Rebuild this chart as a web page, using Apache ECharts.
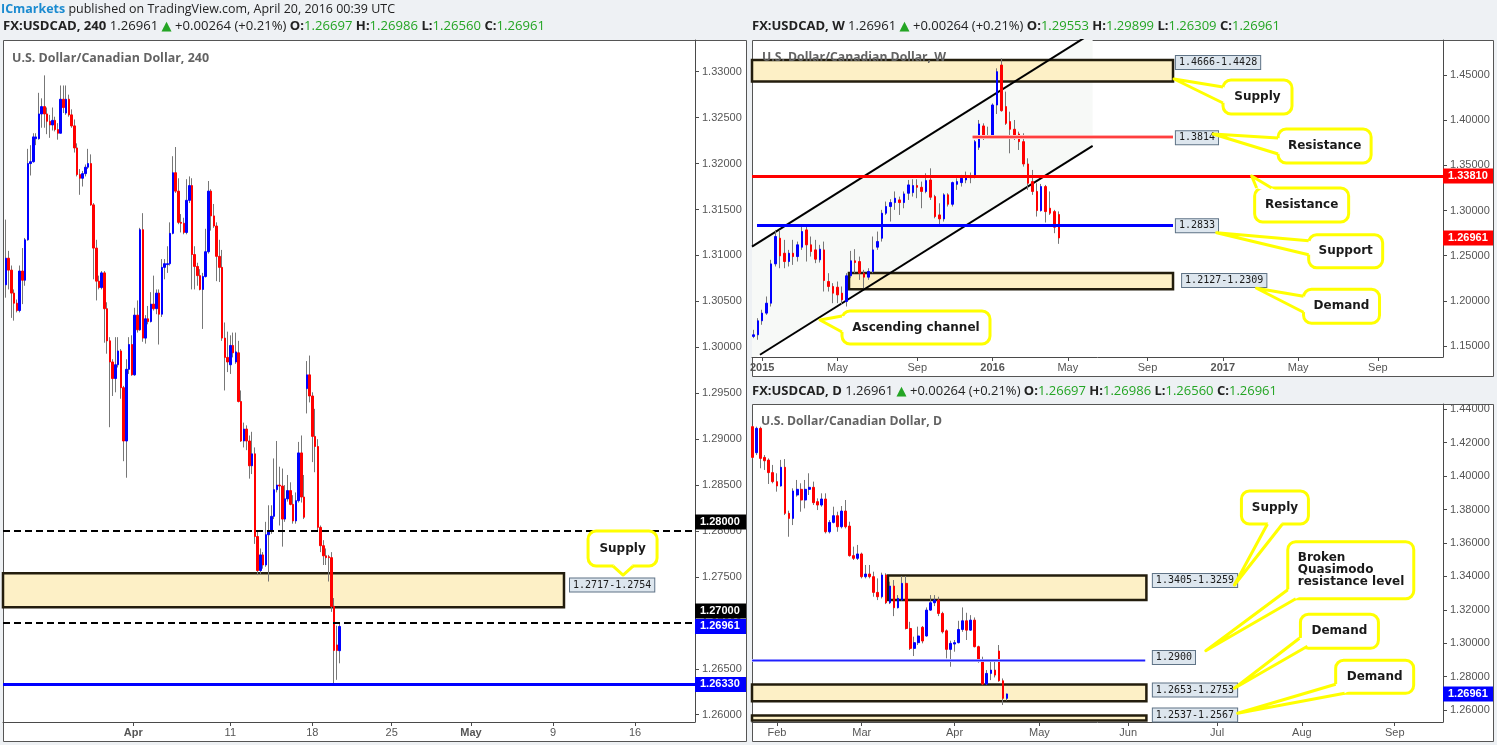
<!DOCTYPE html>
<html><head><meta charset="utf-8"><title>USDCAD</title>
<script src="https://cdn.jsdelivr.net/npm/echarts@6.0.0/dist/echarts.min.js"></script>
<style>html,body{margin:0;padding:0;background:#eef1f4;overflow:hidden}#chart{width:1497px;height:745px}</style>
</head><body><div id="chart"></div>
<script>
// ================= DATA =================
// 4-hour candles: [open, high, low, close]
const h4Candles = [
[1.3068,1.3139,1.3054,1.3097],[1.3097,1.3105,1.3063,1.3084],[1.3084,1.3089,1.3032,1.3059],[1.3059,1.3063,1.3029,1.3048],
[1.3048,1.3052,1.3038,1.3040],[1.3040,1.3089,1.3038,1.3083],[1.3083,1.3108,1.3047,1.3073],[1.3073,1.3119,1.3067,1.3117],
[1.3117,1.3216,1.3116,1.3200],[1.3200,1.3220,1.3187,1.3202],[1.3202,1.3233,1.3201,1.3229],[1.3227,1.3233,1.3220,1.3229],
[1.3227,1.3277,1.3226,1.3254],[1.3254,1.3271,1.3239,1.3262],[1.3262,1.3296,1.3239,1.3254],[1.3254,1.3261,1.3232,1.3246],
[1.3246,1.3253,1.3228,1.3242],[1.3242,1.3261,1.3236,1.3247],[1.3247,1.3251,1.3235,1.3237],[1.3237,1.3244,1.3226,1.3233],
[1.3233,1.3285,1.3233,1.3270],[1.3270,1.3285,1.3255,1.3261],[1.3255,1.3285,1.3253,1.3270],[1.3270,1.3275,1.3251,1.3253],
[1.3253,1.3259,1.3239,1.3241],[1.3241,1.3248,1.3212,1.3217],[1.3217,1.3222,1.3186,1.3188],[1.3188,1.3194,1.3166,1.3184],
[1.3184,1.3192,1.3175,1.3189],[1.3189,1.3199,1.3186,1.3196],[1.3196,1.3216,1.3194,1.3200],[1.3200,1.3210,1.3154,1.3155],
[1.3155,1.3157,1.3074,1.3108],[1.3108,1.3117,1.3051,1.3072],[1.3072,1.3078,1.3063,1.3065],[1.3065,1.3083,1.3063,1.3081],
[1.3081,1.3083,1.3005,1.3042],[1.3042,1.3049,1.2993,1.3007],[1.3007,1.3011,1.2913,1.2984],[1.2984,1.2987,1.2947,1.2966],
[1.2966,1.3011,1.2951,1.2981],[1.2981,1.3011,1.2978,1.2996],[1.2996,1.2998,1.2944,1.2956],[1.2956,1.2958,1.2876,1.2898],
[1.2898,1.2987,1.2858,1.2976],[1.2976,1.3011,1.2971,1.3003],[1.3003,1.3013,1.2969,1.2970],[1.2970,1.3043,1.2969,1.3035],
[1.3035,1.3051,1.3016,1.3019],[1.3019,1.3130,1.3018,1.3128],[1.3128,1.3146,1.3006,1.3010],[1.3010,1.3035,1.3004,1.3031],
[1.3031,1.3045,1.3025,1.3028],[1.3028,1.3060,1.3027,1.3047],[1.3047,1.3078,1.3040,1.3042],[1.3042,1.3063,1.3036,1.3059],
[1.3059,1.3063,1.3003,1.3036],[1.3036,1.3096,1.3033,1.3087],[1.3087,1.3096,1.3074,1.3091],[1.3090,1.3110,1.3081,1.3091],
[1.3091,1.3136,1.3089,1.3124],[1.3124,1.3208,1.3123,1.3190],[1.3190,1.3218,1.3168,1.3170],[1.3170,1.3184,1.3134,1.3136],
[1.3136,1.3145,1.3125,1.3135],[1.3135,1.3141,1.3123,1.3125],[1.3125,1.3183,1.3123,1.3160],[1.3160,1.3186,1.3157,1.3176],
[1.3176,1.3184,1.3063,1.3101],[1.3101,1.3110,1.3063,1.3088],[1.3088,1.3092,1.3067,1.3078],[1.3078,1.3085,1.3062,1.3063],
[1.3063,1.3081,1.3020,1.3077],[1.3077,1.3129,1.3076,1.3104],[1.3104,1.3181,1.3102,1.3170],[1.3170,1.3172,1.3127,1.3143],
[1.3143,1.3156,1.3130,1.3132],[1.3132,1.3136,1.3072,1.3099],[1.3099,1.3117,1.3071,1.3087],[1.3087,1.3106,1.3007,1.3010],
[1.3010,1.3027,1.2953,1.2989],[1.2989,1.3017,1.2973,1.2984],[1.2981,1.3013,1.2971,1.3002],[1.3002,1.3016,1.2989,1.2994],
[1.2984,1.3016,1.2982,1.2995],[1.2994,1.3007,1.2940,1.2941],[1.2941,1.2953,1.2897,1.2898],[1.2898,1.2918,1.2891,1.2911],
[1.2911,1.2915,1.2888,1.2898],[1.2898,1.2904,1.2857,1.2871],[1.2871,1.2908,1.2862,1.2884],[1.2884,1.2891,1.2786,1.2794],
[1.2794,1.2799,1.2752,1.2757],[1.2757,1.2781,1.2753,1.2774],[1.2774,1.2777,1.2759,1.2763],[1.2763,1.2810,1.2761,1.2796],
[1.2796,1.2828,1.2745,1.2800],[1.2800,1.2828,1.2797,1.2816],[1.2816,1.2879,1.2813,1.2845],[1.2845,1.2898,1.2842,1.2850],
[1.2850,1.2870,1.2806,1.2849],[1.2849,1.2868,1.2783,1.2813],[1.2813,1.2850,1.2810,1.2835],[1.2835,1.2861,1.2832,1.2844],
[1.2844,1.2853,1.2828,1.2829],[1.2829,1.2839,1.2808,1.2811],[1.2811,1.2842,1.2808,1.2833],[1.2833,1.2897,1.2831,1.2885],
[1.2885,1.2904,1.2831,1.2837],[1.2837,1.2861,1.2813,1.2815],[1.2955,1.2985,1.2928,1.2970],[1.2970,1.2991,1.2940,1.2947],
[1.2947,1.2951,1.2875,1.2903],[1.2903,1.2933,1.2864,1.2892],[1.2892,1.2900,1.2799,1.2804],[1.2804,1.2806,1.2777,1.2784],
[1.2784,1.2790,1.2763,1.2773],[1.2773,1.2781,1.2763,1.2771],[1.2772,1.2774,1.2745,1.2771],[1.2771,1.2777,1.2712,1.2718],
[1.2718,1.2727,1.2633,1.2670],[1.2676,1.2697,1.2638,1.2670],[1.26697,1.26986,1.26560,1.26961]
];
// weekly candles: [open, high, low, close]
const weeklyCandles = [
[1.1606,1.1679,1.1587,1.1624],[1.1624,1.1808,1.1569,1.1779],[1.1779,1.1901,1.1735,1.1864],[1.1864,1.2048,1.1845,1.1974],
[1.1974,1.2454,1.1937,1.2409],[1.2409,1.2785,1.2380,1.2712],[1.2693,1.2785,1.2361,1.2498],[1.2527,1.2675,1.2361,1.2435],
[1.2435,1.2564,1.2380,1.2527],[1.2527,1.2675,1.2398,1.2490],[1.2490,1.2656,1.2435,1.2620],[1.2594,1.2822,1.2564,1.2767],
[1.2785,1.2822,1.2435,1.2620],[1.2620,1.2712,1.2490,1.2546],[1.2564,1.2675,1.2417,1.2461],[1.2454,1.2620,1.2424,1.2572],
[1.2564,1.2656,1.2103,1.2225],[1.2214,1.2306,1.2103,1.2159],[1.2159,1.2196,1.1974,1.2085],[1.2151,1.2214,1.1974,1.2066],
[1.2085,1.2159,1.1956,1.2011],[1.1993,1.2306,1.1937,1.2277],[1.2277,1.2553,1.2251,1.2443],[1.2443,1.2572,1.2306,1.2424],
[1.2435,1.2490,1.2232,1.2306],[1.2306,1.2343,1.2140,1.2262],[1.2262,1.2361,1.2232,1.2325],[1.2325,1.2712,1.2306,1.2564],
[1.2594,1.2767,1.2564,1.2656],[1.2693,1.3007,1.2656,1.2970],[1.2970,1.3099,1.2951,1.3044],[1.3044,1.3125,1.2878,1.3088],
[1.3088,1.3211,1.3007,1.3136],[1.3117,1.3154,1.2951,1.3088],[1.3088,1.3211,1.3025,1.3184],[1.3191,1.3338,1.3117,1.3283],
[1.3198,1.3346,1.3154,1.3276],[1.3276,1.3346,1.3136,1.3257],[1.3257,1.3320,1.3025,1.3211],[1.3211,1.3412,1.3191,1.3331],
[1.3338,1.3467,1.3117,1.3147],[1.3154,1.3173,1.2914,1.2933],[1.2951,1.3080,1.2841,1.2907],[1.2907,1.3191,1.2878,1.3173],
[1.3173,1.3191,1.3044,1.3069],[1.3069,1.3320,1.3044,1.3309],[1.3290,1.3357,1.3228,1.3320],[1.3309,1.3394,1.3265,1.3357],
[1.3338,1.3431,1.3302,1.3375],[1.3364,1.3420,1.3302,1.3375],[1.3368,1.3781,1.3357,1.3762],[1.3700,1.4002,1.3670,1.3958],
[1.3936,1.3965,1.3781,1.3818],[1.3810,1.3928,1.3799,1.3825],[1.3818,1.4186,1.3799,1.4168],[1.4168,1.4574,1.4068,1.4537],
[1.4610,1.4684,1.4094,1.4105],[1.4150,1.4316,1.3947,1.3965],[1.3984,1.4094,1.3633,1.3899],[1.3899,1.4002,1.3781,1.3836],
[1.3847,1.3873,1.3670,1.3762],[1.3762,1.3855,1.3486,1.3515],[1.3515,1.3578,1.3228,1.3302],[1.3320,1.3449,1.3173,1.3211],
[1.3211,1.3302,1.2933,1.2999],[1.2999,1.3294,1.2988,1.3265],[1.3265,1.3283,1.2867,1.2988],[1.3025,1.3211,1.2951,1.2970],
[1.2988,1.3007,1.2749,1.2815],[1.29553,1.29899,1.26309,1.26961]
];
// daily candles: [open, high, low, close]
const dailyCandles = [
[1.4296,1.4300,1.4106,1.4112],[1.4140,1.4296,1.4126,1.4286],[1.4286,1.4296,1.4047,1.4106],[1.4112,1.4126,1.4037,1.4092],
[1.4096,1.4106,1.3953,1.4021],[1.4021,1.4067,1.3957,1.3967],[1.3967,1.4017,1.3907,1.3941],[1.3941,1.4097,1.3937,1.4053],
[1.4053,1.4102,1.3767,1.3777],[1.3777,1.3793,1.3637,1.3747],[1.3747,1.3927,1.3707,1.3911],[1.3887,1.3977,1.3877,1.3921],
[1.3921,1.3957,1.3787,1.3857],[1.3857,1.3977,1.3807,1.3921],[1.3921,1.4017,1.3887,1.3933],[1.3933,1.3967,1.3827,1.3841],
[1.3847,1.3867,1.3797,1.3827],[1.3827,1.3897,1.3817,1.3863],[1.3863,1.3897,1.3657,1.3667],[1.3667,1.3737,1.3657,1.3723],
[1.3723,1.3817,1.3717,1.3763],[1.3763,1.3787,1.3667,1.3697],[1.3697,1.3821,1.3687,1.3791],[1.3791,1.3857,1.3687,1.3697],
[1.3701,1.3727,1.3518,1.3524],[1.3524,1.3578,1.3498,1.3508],[1.3508,1.3588,1.3498,1.3534],[1.3534,1.3542,1.3388,1.3398],
[1.3398,1.3468,1.3388,1.3414],[1.3414,1.3468,1.3388,1.3398],[1.3398,1.3428,1.3278,1.3304],[1.3304,1.3388,1.3258,1.3278],
[1.3278,1.3422,1.3268,1.3408],[1.3408,1.3418,1.3234,1.3242],[1.3242,1.3368,1.3234,1.3342],[1.3342,1.3378,1.3162,1.3212],
[1.3212,1.3288,1.3208,1.3268],[1.3258,1.3402,1.3254,1.3358],[1.3358,1.3402,1.3082,1.3088],[1.3088,1.3128,1.2959,1.2969],
[1.2969,1.3039,1.2923,1.3003],[1.3003,1.3099,1.2989,1.3043],[1.3095,1.3103,1.2999,1.3013],[1.3043,1.3214,1.3039,1.3198],
[1.3198,1.3288,1.3194,1.3242],[1.3242,1.3288,1.3222,1.3258],[1.3258,1.3278,1.3162,1.3178],[1.3178,1.3188,1.3058,1.3068],
[1.3074,1.3082,1.2909,1.2963],[1.2963,1.3015,1.2859,1.2999],[1.2995,1.3019,1.2949,1.3003],[1.3003,1.3134,1.2999,1.3082],
[1.3082,1.3214,1.3068,1.3134],[1.3134,1.3182,1.3019,1.3078],[1.3078,1.3168,1.3074,1.3138],[1.3138,1.3154,1.2975,1.2979],
[1.2979,1.2985,1.2883,1.2893],[1.2893,1.2919,1.2749,1.2755],[1.2755,1.2839,1.2749,1.2819],[1.2819,1.2895,1.2779,1.2839],
[1.2839,1.2899,1.2795,1.2809],[1.2953,1.2989,1.2769,1.2775],[1.2775,1.2789,1.2630,1.26697],[1.26697,1.26986,1.26560,1.26961]
];

// time-axis tick labels and the bar index they sit on
const h4TickLabels = ['Apr','11','18','25','May','9','16'];
const h4TickBars = [46.5,82,112,141,170,200,230];
const h4BoldTicks = ['Apr','May'];
const weeklyTickLabels = ['2015','May','Sep','2016','May','Sep','2017','May','Sep'];
const weeklyTickBars = [2,19,37,54,71,89,106,123,141];
const weeklyBoldTicks = ['2015','2016','2017'];
const dailyTickLabels = ['Feb','Mar','Apr','May','Jun','Jul','Aug','Sep'];
const dailyTickBars = [6,27,50,71,93,115,136,159];
const dailyBoldTicks = [];

// price-axis tick values
const h4PriceTicks = [1.26,1.265,1.27,1.275,1.28,1.285,1.29,1.295,1.30,1.305,1.31,1.315,1.32,1.325,1.33];
const weeklyPriceTicks = [1.15,1.20,1.25,1.30,1.35,1.40,1.45];
const dailyPriceTicks = [1.26,1.28,1.30,1.32,1.34,1.36,1.38,1.40,1.42,1.44];

// quotes shown in headers: [last, change, pct, O, H, L, C]
const h4Quote = ['1.26961','+0.00264','+0.21%','1.26697','1.26986','1.26560','1.26961'];
const weeklyQuote = ['1.26961','+0.00264','+0.21%','1.29553','1.29899','1.26309','1.26961'];
const dailyQuote = ['1.26961','+0.00264','+0.21%','1.26697','1.26986','1.26560','1.26961'];

// horizontal levels: [panel, price, fromBar|null, toBar|null, kind]
const levels = [
  [0, 1.2800, null, null, 'dash'],
  [0, 1.2700, null, null, 'dash'],
  [0, 1.2633, null, null, 'blueThick'],
  [1, 1.3381, null, null, 'redThick'],
  [1, 1.3814, 49.5, 94.75, 'redHalo'],
  [1, 1.3814, 49.5, 94.75, 'redThin'],
  [1, 1.2833, 0.83, 94.75, 'blueThick'],
  [2, 1.2900, null, 97.2, 'blueHalo'],
  [2, 1.2900, null, 97.2, 'blueThin']
];
// supply / demand zones: [panel, top, bottom, fromBar|null, toBar]
const zones = [
  [0, 1.2754, 1.2717, null, 204.0],
  [1, 1.4666, 1.4428, null, 94.75],
  [1, 1.2309, 1.2127, 21.6, 94.75],
  [2, 1.3405, 1.3259, 33.5, 97.5],
  [2, 1.2753, 1.2653, null, 97.5],
  [2, 1.2567, 1.2537, null, 97.5]
];
// weekly ascending channel: [bar, price] end points
const channelUpper = [[-0.3, 1.2601], [76.6, 1.4969]];
const channelLower = [[1.5, 1.1403], [76.6, 1.3716]];
// price labels next to zones / lines: [panel, text, leftBar, centerPrice]
const priceLabels = [
  [0,'1.2717-1.2754',206.2,1.27412],
  [1,'1.4666-1.4428',95.4,1.4638],
  [1,'1.3814',95.4,1.38048],
  [1,'1.2833',95.4,1.28306],
  [1,'1.2127-1.2309',96.8,1.22251],
  [2,'1.3405-1.3259',99.1,1.33752],
  [2,'1.2900',99.1,1.29143],
  [2,'1.2653-1.2753',99.1,1.27197],
  [2,'1.2537-1.2567',99.1,1.25701]
];
// price-axis tags: [panel, text, price, colour]
const axisTags = [
  [0,'1.28000',1.28,'#000000'],
  [0,'1.27000',1.27,'#000000'],
  [0,'1.26961',1.26961,'#0000ff'],
  [0,'1.26330',1.2633,'#0000ff'],
  [1,'1.33810',1.3381,'#ff0000'],
  [1,'1.26961',1.26961,'#ff0000'],
  [2,'1.26961',1.26961,'#0000ff']
];
// callouts: [panel, text, tipBar, tipPrice]
const callouts = [
  [0,'Supply',225.6,1.27521],
  [1,'Supply',94.97,1.4456],
  [1,'Resistance',103.8,1.3847],
  [1,'Resistance',112.5,1.3382],
  [1,'Support',104.6,1.2754],
  [1,'Demand',113.6,1.2139],
  [1,'Ascending channel',15.05,1.1788],
  [2,'Supply',119.3,1.33482],
  [2,'Broken\nQuasimodo\nresistance level',112.2,1.2955],
  [2,'Demand',119.3,1.27299],
  [2,'Demand',120.1,1.25803]
];

// ================= LAYOUT / STYLE =================
const GRIDS = [
  {left:3, top:40, width:692, height:682},
  {left:752, top:40, width:691, height:317},
  {left:752, top:404, width:691, height:318}
];
const X_RANGE = [[-1.1, 251.9], [-0.3, 155.7], [-0.17, 170.95]];
const Y_RANGE = [[1.25921, 1.33345], [1.13782, 1.48875], [1.25282, 1.44317]];
const BODY_W = [2, 2, 2.3];
const TAG_W = [51, 50, 50];
const TAG_DY = [-9, -12, 0, 0, 0, 0, 0];
// bubble layout relative to tip (px): [dx, dy, w, h, base1x, base1y, base2x, base2y]
const CALLOUT_BOX = [
  [-35,-44,69,35, -10,-9, 10,-9],
  [49,1,69,34, 49,8, 49,24],
  [65,-5,93,34, 65,4, 65,20],
  [3,12,94,34, 5,12, 20,12],
  [92,2,74,33, 92,8, 92,22],
  [47,1,76,34, 47,8, 47,24],
  [22,-9,148,33, 22,-4, 22,12],
  [7,-94,67,33, 33,-61, 48,-61],
  [82,-109,126,57, 82,-61, 90,-52],
  [66,-74,78,34, 65,-50, 73,-42],
  [98,-53,78,33, 98,-29, 107,-20]
];

const UP = '#0000ff', DOWN = '#ff0000', WICK = '#777777', AXIS = '#4a4a4a', LABEL = '#555555';
const F_AX = "'Liberation Sans', Arial, sans-serif";
const F_HEAD = "'Open Sans', 'DejaVu Sans', sans-serif";
const F_NOTE = "'DejaVu Sans', Verdana, sans-serif";
const F_MONO = "'DejaVu Sans Mono', 'Liberation Mono', monospace";
const GREEN = '#24a524', YELLOW = '#ffff00';
const LEVEL_STYLE = {
  dash: {color:'#000000', width:2, type:[7,4]},
  blueThick: {color:'#0000ff', width:3, type:'solid'},
  redThick: {color:'#ff0000', width:3, type:'solid'},
  redHalo: {color:'#ffb0b0', width:4, type:'solid'},
  redThin: {color:'#ff1a1a', width:1.6, type:'solid'},
  blueHalo: {color:'#b8b8ff', width:3, type:'solid'},
  blueThin: {color:'#2020ff', width:1.3, type:'solid'}
};
const ZONE_STYLE = {color:'#fdf0c6', borderColor:'#231d0d', borderWidth:2.5};

const PANELS = [
  {candles:h4Candles, pTicks:h4PriceTicks, tBars:h4TickBars, tLabels:h4TickLabels, bold:h4BoldTicks},
  {candles:weeklyCandles, pTicks:weeklyPriceTicks, tBars:weeklyTickBars, tLabels:weeklyTickLabels, bold:weeklyBoldTicks},
  {candles:dailyCandles, pTicks:dailyPriceTicks, tBars:dailyTickBars, tLabels:dailyTickLabels, bold:dailyBoldTicks}
];

function panelMarks(k) {
  const xmin = X_RANGE[k][0], xmax = X_RANGE[k][1];
  const lines = levels.filter(l => l[0] === k).map(l => [
    {coord:[l[2] == null ? xmin : l[2], l[1]], lineStyle: LEVEL_STYLE[l[4]]},
    {coord:[l[3] == null ? xmax : l[3], l[1]]}
  ]);
  const areas = zones.filter(z => z[0] === k).map(z => [
    {coord:[z[3] == null ? xmin : z[3], z[1]], itemStyle: ZONE_STYLE},
    {coord:[z[4] == null ? xmax : z[4], z[2]]}
  ]);
  return {
    markLine: {silent:true, symbol:['none','none'], label:{show:false}, emphasis:{disabled:true}, animation:false, data:lines},
    markArea: {silent:true, label:{show:false}, emphasis:{disabled:true}, animation:false, data:areas}
  };
}

function channelFillPoly() {
  const xmin = X_RANGE[1][0], ymin = Y_RANGE[1][0], ymax = Y_RANGE[1][1];
  const su = (channelUpper[1][1]-channelUpper[0][1])/(channelUpper[1][0]-channelUpper[0][0]);
  const sl = (channelLower[1][1]-channelLower[0][1])/(channelLower[1][0]-channelLower[0][0]);
  const xEnd = channelLower[1][0];
  const up = x => channelUpper[0][1] + su*(x-channelUpper[0][0]);
  const lo = x => channelLower[0][1] + sl*(x-channelLower[0][0]);
  const xTop = channelUpper[0][0] + (ymax-channelUpper[0][1])/su;
  const xBot = channelLower[0][0] + (ymin-channelLower[0][1])/sl;
  return [[xmin, up(xmin)], [xTop, ymax], [xEnd, ymax], [xEnd, lo(xEnd)], [xBot, ymin], [xmin, ymin]];
}

const xAxes = PANELS.map((P, k) => ({
  type:'value', gridIndex:k, min:X_RANGE[k][0], max:X_RANGE[k][1],
  axisLine:{show:true, onZero:false, lineStyle:{color:AXIS, width:1}},
  axisTick:{show:true, length:4, lineStyle:{color:AXIS}, customValues:P.tBars},
  axisLabel:{show:true, customValues:P.tBars, margin:5, color:LABEL, fontSize:11, fontFamily:F_AX,
    formatter: v => { const t = P.tLabels[P.tBars.indexOf(v)]; if (t == null) return ''; return P.bold.indexOf(t) >= 0 ? '{b|' + t + '}' : t; },
    rich:{b:{fontWeight:'bold', color:LABEL, fontSize:11, fontFamily:F_AX}}},
  splitLine:{show:false}
}));
const yAxes = PANELS.map((P, k) => ({
  type:'value', gridIndex:k, position:'right', min:Y_RANGE[k][0], max:Y_RANGE[k][1],
  axisLine:{show:true, onZero:false, lineStyle:{color:AXIS, width:1}},
  axisTick:{show:true, length:4, lineStyle:{color:AXIS}, customValues:P.pTicks},
  axisLabel:{show:true, customValues:P.pTicks, margin:7, color:LABEL, fontSize:11, fontFamily:F_AX, formatter: v => v.toFixed(5)},
  splitLine:{show:false}
}));

const series = [];
series.push({type:'custom', xAxisIndex:1, yAxisIndex:1, silent:true, clip:true, z:0,
  renderItem:(p, api) => ({type:'polygon', shape:{points: channelFillPoly().map(pt => api.coord(pt))}, style:{fill:'#f7f9f7'}}),
  data:[[0, 1.3]]});
PANELS.forEach((P, k) => {
  series.push({type:'candlestick', xAxisIndex:k, yAxisIndex:k, silent:true, clip:true, z:2, barWidth:0.01,
    itemStyle:{color:WICK, color0:WICK, borderColor:WICK, borderColor0:WICK, borderWidth:1},
    emphasis:{disabled:true},
    data:P.candles.map((c, i) => [i, c[0], c[3], c[2], c[1]])});
  series.push(Object.assign({type:'candlestick', xAxisIndex:k, yAxisIndex:k, silent:true, clip:true, z:3, barWidth:BODY_W[k],
    itemStyle:{color:UP, color0:DOWN, borderColor:UP, borderColor0:DOWN, borderWidth:1},
    emphasis:{disabled:true},
    data:P.candles.map((c, i) => [i, c[0], c[3], Math.min(c[0], c[3]), Math.max(c[0], c[3])])}, panelMarks(k)));
});
[channelUpper, channelLower].forEach(line => series.push({type:'line', xAxisIndex:1, yAxisIndex:1, silent:true, clip:true, z:1,
  symbol:'none', lineStyle:{color:'#000000', width:2}, data:line}));

const chart = echarts.init(document.getElementById('chart'), null, {renderer:'canvas', width:1497, height:745});
chart.setOption({
  backgroundColor:'#eef1f4',
  animation:false,
  tooltip:{show:false},
  grid:GRIDS.map(g => Object.assign({containLabel:false, outerBoundsMode:'none'}, g)),
  xAxis:xAxes, yAxis:yAxes, series:series
});

// ================= GRAPHICS (frames, headers, annotations) =================
const mctx = document.createElement('canvas').getContext('2d');
function richText(x, y, segs, targetW, z) {
  const rich = {}; let text = ''; let w = 0;
  segs.forEach((s, i) => {
    const fw = s.w || 'normal';
    rich['s' + i] = {fontSize:s.size, fontFamily:s.fam, fontWeight:fw, fill:s.c};
    text += '{s' + i + '|' + s.t + '}';
    mctx.font = fw + ' ' + s.size + 'px ' + s.fam; w += mctx.measureText(s.t).width;
  });
  const sx = targetW ? targetW / w : 1;
  return {type:'text', x:x, y:y, scaleX:sx, z:z, silent:true, style:{text:text, rich:rich, verticalAlign:'middle', align:'left'}};
}
function quoteSegs(label, q) {
  return [
    {t:label, w:'bold', c:'#222'}, {t:' ' + q[0] + ' ', c:'#222'}, {t:'\u25B2', c:GREEN},
    {t:' ' + q[1] + ' (' + q[2] + ') ', c:'#222'},
    {t:'O:', w:'bold', c:'#222'}, {t:q[3], c:GREEN},
    {t:' H:', w:'bold', c:'#222'}, {t:q[4], c:GREEN},
    {t:' L:', w:'bold', c:'#222'}, {t:q[5], c:GREEN},
    {t:' C:', w:'bold', c:'#222'}, {t:q[6], c:GREEN}
  ].map(s => Object.assign({size:13, fam:F_HEAD}, s));
}
const px = (k, x, v) => chart.convertToPixel({gridIndex:k}, [x, v]);

function buildGraphics() {
  const els = [];
  // panel frames
  [[3.5,40.5,743,701],[752.5,40.5,741,336],[752.5,404.5,741,337]].forEach(r => els.push(
    {type:'rect', silent:true, z:-10, shape:{x:r[0], y:r[1], width:r[2], height:r[3]}, style:{fill:'#ffffff', stroke:'#555555', lineWidth:1}}));
  // headers
  els.push(richText(1, 9.5, [{t:'ICmarkets', w:'bold', c:'#1b8bd0'}, {t:' published on TradingView.com, April 20, 2016 00:39 UTC', c:'#222'}].map(s => Object.assign({size:13, fam:F_HEAD}, s)), 394, 50));
  els.push(richText(3, 26, quoteSegs('FX:USDCAD, 240', h4Quote), 542, 50));
  els.push(richText(752, 26, quoteSegs('FX:USDCAD, W', weeklyQuote), 528, 50));
  els.push(richText(752, 391, quoteSegs('FX:USDCAD, D', dailyQuote), 525, 50));
  // panel titles
  els.push(richText(12, 58, [{t:'U.S. Dollar/Canadian Dollar, 240', w:'bold', c:'#636363', size:13, fam:F_HEAD}], 197, 25));
  els.push(richText(762, 57.5, [{t:'U.S. Dollar/Canadian Dollar, W', w:'bold', c:'#636363', size:13, fam:F_HEAD}], 184, 25));
  els.push(richText(761, 421.5, [{t:'U.S. Dollar/Canadian Dollar, D', w:'bold', c:'#636363', size:13, fam:F_HEAD}], 181, 25));
  // price labels
  priceLabels.forEach(l => {
    const p = px(l[0], l[2], l[3]);
    els.push({type:'text', x:p[0], y:p[1], z:30, silent:true, style:{text:l[1], fontFamily:F_MONO, fontSize:10, fill:'#1a1a1a',
      backgroundColor:'#dde6ee', borderColor:'#5f7386', borderWidth:1, padding:[2,3,1,3], verticalAlign:'middle', align:'left'}});
  });
  // axis tags
  axisTags.forEach((t, i) => {
    const k = t[0], g = GRIDS[k];
    const y = px(k, X_RANGE[k][0], t[2])[1] + TAG_DY[i];
    const x0 = g.left + g.width;
    els.push({type:'rect', z:30, silent:true, shape:{x:x0, y:y - 7.5, width:TAG_W[k], height:15}, style:{fill:t[3]}});
    els.push({type:'text', z:31, silent:true, x:x0 + 5, y:y, style:{text:t[1], fill:'#ffffff', fontWeight:'bold', fontSize:11, fontFamily:F_AX, verticalAlign:'middle', align:'left'}});
  });
  // callouts
  callouts.forEach((c, i) => {
    const tip = px(c[0], c[2], c[3]);
    const b = CALLOUT_BOX[i];
    const bx = tip[0] + b[0], by = tip[1] + b[1], w = b[2], h = b[3];
    const cx = bx + w / 2, cy = by + h / 2;
    const p1 = [tip[0] + b[4], tip[1] + b[5]], p2 = [tip[0] + b[6], tip[1] + b[7]];
    const inward = p => { const vx = cx - p[0], vy = cy - p[1], L = Math.hypot(vx, vy) || 1; return [p[0] + vx / L * 6, p[1] + vy / L * 6]; };
    els.push({type:'rect', z:40, silent:true, shape:{x:bx, y:by, width:w, height:h, r:8}, style:{fill:'#ffffff', stroke:YELLOW, lineWidth:3}});
    els.push({type:'polygon', z:41, silent:true, shape:{points:[inward(p1), p1, tip, p2, inward(p2)]}, style:{fill:'#ffffff'}});
    els.push({type:'polyline', z:42, silent:true, shape:{points:[p1, tip, p2]}, style:{stroke:YELLOW, lineWidth:3, fill:null, lineJoin:'round'}});
    const multi = c[1].indexOf('\n') >= 0;
    els.push({type:'text', z:43, silent:true, x: multi ? bx + 10 : cx, y:cy, style:{text:c[1], fontFamily:F_NOTE, fontWeight:'bold', fontSize:12,
      lineHeight:12, fill:'#1a1a1a', align: multi ? 'left' : 'center', verticalAlign:'middle'}});
  });
  return els;
}
chart.setOption({graphic:{elements:buildGraphics()}});
</script></body></html>
